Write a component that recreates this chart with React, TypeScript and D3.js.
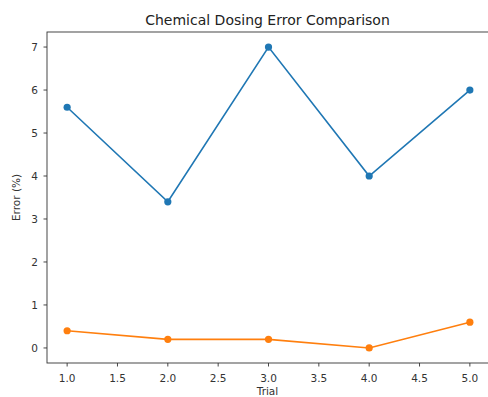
import React from "react";
import * as d3 from "d3";

const trials = [1, 2, 3, 4, 5];
const seriesA = [5.6, 3.4, 7.0, 4.0, 6.0];
const seriesB = [0.4, 0.2, 0.2, 0.0, 0.6];
const xTicks = [1.0, 1.5, 2.0, 2.5, 3.0, 3.5, 4.0, 4.5, 5.0];
const yTicks = [0, 1, 2, 3, 4, 5, 6, 7];

const width = 488;
const height = 397;
const margin = { top: 32, right: -2, bottom: 34, left: 47 };
const font = "DejaVu Sans, sans-serif";

export default function App() {
  const x = d3
    .scaleLinear()
    .domain([0.8, 5.2])
    .range([margin.left, width - margin.right]);
  const y = d3
    .scaleLinear()
    .domain([-0.35, 7.35])
    .range([height - margin.bottom, margin.top]);

  const line = d3
    .line<number>()
    .x((_, i) => x(trials[i]))
    .y((d) => y(d));

  const series = [
    { values: seriesA, color: "#1f77b4" },
    { values: seriesB, color: "#ff7f0e" },
  ];

  const x0 = x.range()[0];
  const x1 = x.range()[1];
  const y0 = y.range()[0];
  const y1 = y.range()[1];

  return (
    <svg
      width={width}
      height={height}
      style={{ position: "absolute", left: 0, top: 0, background: "#fff" }}
    >
      <text
        x={(x0 + 488) / 2}
        y={25}
        textAnchor="middle"
        fontFamily={font}
        fontSize={14}
        fill="#222"
      >
        Chemical Dosing Error Comparison
      </text>

      {series.map((s, k) => (
        <g key={k}>
          <path d={line(s.values) || ""} fill="none" stroke={s.color} strokeWidth={1.6} />
          {s.values.map((v, i) => (
            <circle key={i} cx={x(trials[i])} cy={y(v)} r={3.6} fill={s.color} />
          ))}
        </g>
      ))}

      <rect
        x={x0}
        y={y1}
        width={x1 - x0}
        height={y0 - y1}
        fill="none"
        stroke="#333"
        strokeWidth={0.9}
      />

      {xTicks.map((t) => (
        <g key={t} transform={`translate(${x(t)},${y0})`}>
          <line y2={3.5} stroke="#333" strokeWidth={0.9} />
          <text
            y={19}
            textAnchor="middle"
            fontFamily={font}
            fontSize={10.5}
            fill="#333"
          >
            {t.toFixed(1)}
          </text>
        </g>
      ))}

      {yTicks.map((t) => (
        <g key={t} transform={`translate(${x0},${y(t)})`}>
          <line x2={-3.5} stroke="#333" strokeWidth={0.9} />
          <text
            x={-9}
            dy="0.35em"
            textAnchor="end"
            fontFamily={font}
            fontSize={10.5}
            fill="#333"
          >
            {t}
          </text>
        </g>
      ))}

      <text
        x={(x0 + 488) / 2}
        y={395}
        textAnchor="middle"
        fontFamily={font}
        fontSize={10.5}
        fill="#333"
      >
        Trial
      </text>
      <text
        transform={`translate(20,${(y0 + y1) / 2}) rotate(-90)`}
        textAnchor="middle"
        fontFamily={font}
        fontSize={10.5}
        fill="#333"
      >
        Error (%)
      </text>
    </svg>
  );
}
